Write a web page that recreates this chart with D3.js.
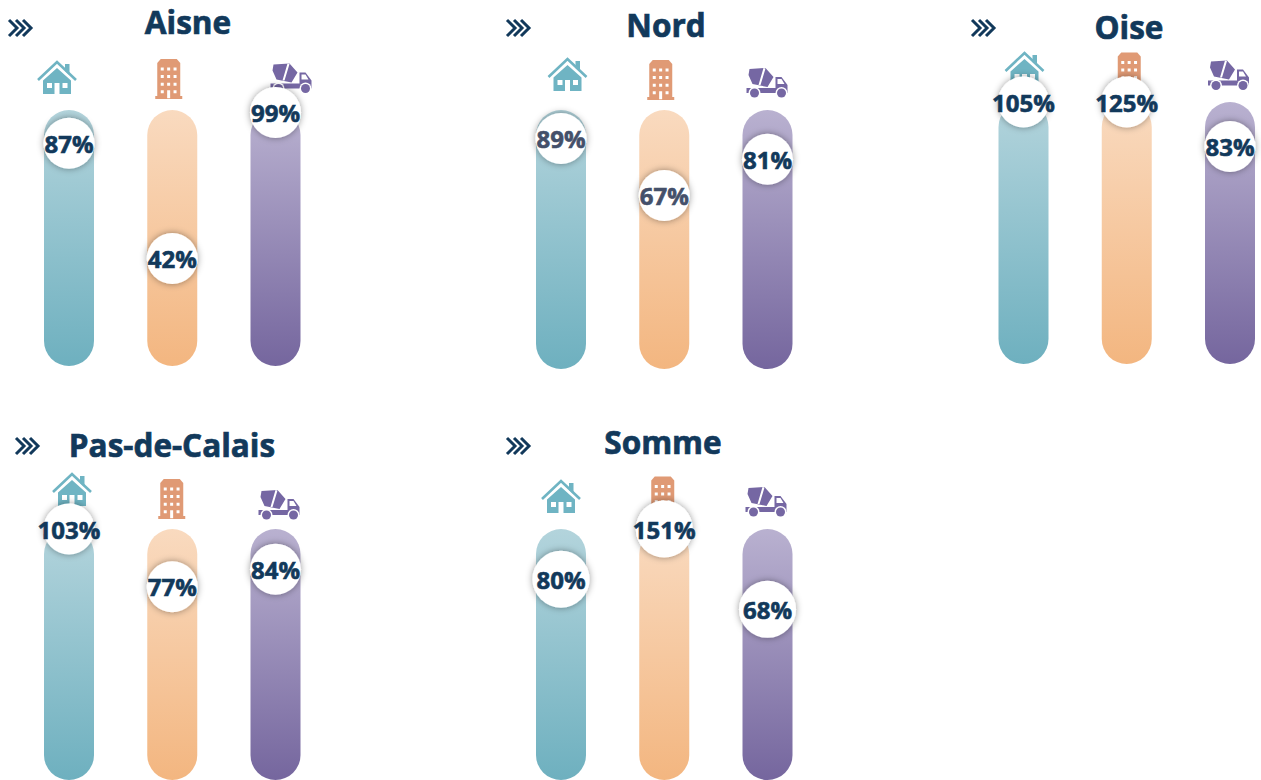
<!DOCTYPE html>
<html>
<head>
<meta charset="utf-8">
<script src="https://cdn.jsdelivr.net/npm/d3@7"></script>
<style>
  html, body { margin: 0; padding: 0; background: #fff; overflow: hidden; }
  text { font-family: "Open Sans", sans-serif; font-weight: 700; fill: #12395b; }
</style>
</head>
<body>
<svg id="chart" width="1261" height="780"></svg>
<script>
// values, in %
const departments = ["Aisne", "Nord", "Oise", "Pas-de-Calais", "Somme"];
const categories = ["maison", "collectif", "chantier"];
const maison = [87, 89, 105, 103, 80];
const collectif = [42, 67, 125, 77, 151];
const chantier = [99, 81, 83, 84, 68];

// where each small multiple sits on the page
const panelLeft = [69, 561, 1023.5, 69, 561];
const panelTop = [110, 110, 102, 529, 529];
const panelBottom = [366, 369, 364, 780, 780];
const titleX = [188, 666, 1129, 172, 663];
const titleY = [33.5, 36.5, 38.5, 456.5, 453.5];
const chevronX = [8, 506, 971, 15, 506];
const chevronY = [28, 28, 28, 446, 446];
const markerR = [25.5, 25.5, 25.5, 25.5, 28.5];
const iconDx = [[-12, -3.5, 16], [6.5, -3.5, 0], [1, 2.5, -1], [3, -0.5, 4], [0, -1.5, -1]];
const iconY = [[77, 79, 77.5], [74, 80, 82], [68, 72.5, 74.5], [489, 499, 504], [496, 496.5, 501]];

const colors = {
  maison: ["#b3d4dc", "#6eb0bf"],
  collectif: ["#f9dabf", "#f3b680"],
  chantier: ["#b9b1d0", "#75669e"]
};
const iconColors = { maison: "#6fb4c3", collectif: "#e09a75", chantier: "#7567a3" };

const svg = d3.select("#chart");
const defs = svg.append("defs");

categories.forEach(c => {
  const g = defs.append("linearGradient").attr("id", "grad-" + c)
    .attr("x1", 0).attr("x2", 0).attr("y1", 0).attr("y2", 1);
  g.append("stop").attr("offset", "0%").attr("stop-color", colors[c][0]);
  g.append("stop").attr("offset", "100%").attr("stop-color", colors[c][1]);
});

const shadow = defs.append("filter").attr("id", "shadow")
  .attr("x", "-40%").attr("y", "-40%").attr("width", "180%").attr("height", "180%");
shadow.append("feDropShadow").attr("dx", 0).attr("dy", 0).attr("stdDeviation", 3.5)
  .attr("flood-color", "#000").attr("flood-opacity", 0.4);

// icons drawn around 0,0
function drawIcon(g, name) {
  const c = iconColors[name];
  if (name === "maison") {
    g.append("path").attr("fill", "none").attr("stroke", c).attr("stroke-width", 2.6)
      .attr("d", "M-19,3 L0,-15 L19,3");
    g.append("path").attr("fill", c).attr("d", "M8,-13h4.5v11l-4.5,-4z");
    g.append("path").attr("fill", c).attr("fill-rule", "evenodd")
      .attr("d", "M-14,3.5 L0,-9 L14,3.5 V17 H2.5 V6 H-2.5 V17 H-14z M-10,6v5h5v-5z M5.5,6v5h5v-5z");
  } else if (name === "collectif") {
    let d = "M-11.5,-16 L-8,-20 H8 L11.5,-16 V17 H13.5 V20 H-13.5 V17 H-11.5z";
    d3.range(4).forEach(row => d3.range(3).forEach(col => {
      const x = -8 + col * 6.4, y = -11.5 + row * 7.6;
      if (row === 3 && col === 1) d += `M${x},${y}h3v8h-3z`;
      else d += `M${x},${y}h3v3h-3z`;
    }));
    g.append("path").attr("fill", c).attr("fill-rule", "evenodd").attr("d", d);
  } else {
    g.append("path").attr("fill", c)
      .attr("d", "M-21,6 H8 V-5 H14 L20,3 V11 H-21z M-18,-13 L-2,-14 L6,-5 L0,5 L-15,2 L-19,-7z");
    g.append("path").attr("fill", "#fff").attr("d", "M10,-3h4l3,5h-7z M-4,-14 L-2,-13.5 L-7,3 L-9,3z");
    [-13, 14].forEach(x => {
      g.append("circle").attr("cx", x).attr("cy", 11).attr("r", 6).attr("fill", "#fff");
      g.append("circle").attr("cx", x).attr("cy", 11).attr("r", 4.5).attr("fill", c);
    });
  }
}

departments.forEach((dep, i) => {
  const panel = svg.append("g").attr("class", "panel");
  const rows = [
    { cat: "maison", value: maison[i] },
    { cat: "collectif", value: collectif[i] },
    { cat: "chantier", value: chantier[i] }
  ];

  const x = d3.scalePoint().domain(categories).range([panelLeft[i], panelLeft[i] + 206.5]);
  // anything over 100% stays pinned at the top of the bar
  const y = d3.scaleLinear().domain([0, 100]).range([panelBottom[i], panelTop[i]]).clamp(true);

  panel.append("text").attr("x", titleX[i]).attr("y", titleY[i])
    .attr("text-anchor", "middle").attr("font-size", 31.5)
    .attr("stroke", "#12395b").attr("stroke-width", 0.7).text(dep);

  const chev = panel.append("g").attr("transform", `translate(${chevronX[i]},${chevronY[i]})`);
  d3.range(3).forEach(k => {
    chev.append("path").attr("fill", "none").attr("stroke", "#12395b").attr("stroke-width", 3)
      .attr("d", `M${1 + k * 7},-8 L${9 + k * 7},0 L${1 + k * 7},8`);
  });

  panel.selectAll("rect.bar").data(rows).join("rect").attr("class", "bar")
    .attr("x", d => x(d.cat) - 25)
    .attr("width", 50)
    .attr("y", y(100))
    .attr("height", y(0) - y(100))
    .attr("rx", 25)
    .attr("fill", d => `url(#grad-${d.cat})`);

  rows.forEach((d, k) => {
    const g = panel.append("g")
      .attr("transform", `translate(${x(d.cat) + iconDx[i][k]},${iconY[i][k]})`);
    drawIcon(g, d.cat);
  });

  panel.selectAll("circle.marker").data(rows).join("circle").attr("class", "marker")
    .attr("cx", d => x(d.cat))
    .attr("cy", d => y(d.value))
    .attr("r", markerR[i])
    .attr("fill", "#fff")
    .attr("filter", "url(#shadow)");

  panel.selectAll("text.val").data(rows).join("text").attr("class", "val")
    .attr("x", d => x(d.cat))
    .attr("y", d => y(d.value))
    .attr("dy", "0.4em")
    .attr("text-anchor", "middle")
    .attr("font-size", 24)
    .attr("stroke", d => dep === "Nord" && d.cat !== "chantier" ? "#44506a" : "#12395b")
    .attr("stroke-width", 0.6)
    // two Nord labels are printed in a paler ink in the original
    .style("fill", d => dep === "Nord" && d.cat !== "chantier" ? "#44506a" : null)
    .text(d => d.value + "%");
});
</script>
</body>
</html>
